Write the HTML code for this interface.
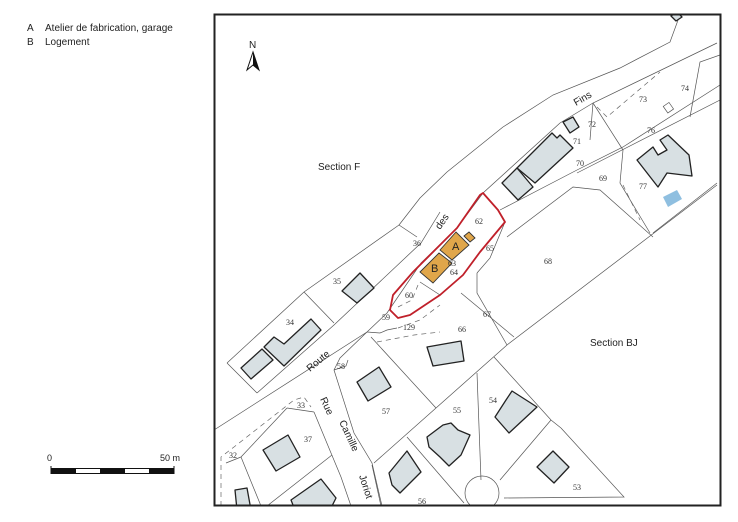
<!DOCTYPE html>
<html><head><meta charset="utf-8"><style>
html,body{margin:0;padding:0;background:#fff;}
svg{display:block;}
.s{font-family:"Liberation Sans",sans-serif;fill:#222;}
.n{font-family:"Liberation Serif",serif;font-size:8px;fill:#333;}
.l{fill:none;stroke:#555;stroke-width:0.7;}
.d{fill:none;stroke:#666;stroke-width:0.7;stroke-dasharray:5,4;}
.b{fill:#d8e0e3;stroke:#222;stroke-width:1.3;stroke-linejoin:round;}
.o{fill:#e0a64a;stroke:#333;stroke-width:0.9;}
</style></head><body>
<svg width="738" height="522" viewBox="0 0 738 522" xmlns="http://www.w3.org/2000/svg">
<rect width="738" height="522" fill="#fff"/>
<text class="s" x="27" y="31" font-size="10">A</text>
<text class="s" x="45" y="31" font-size="10">Atelier de fabrication, garage</text>
<text class="s" x="27" y="45" font-size="10">B</text>
<text class="s" x="45" y="45" font-size="10">Logement</text>
<text class="s" x="47" y="461" font-size="9">0</text>
<text class="s" x="160" y="461" font-size="9">50 m</text>
<rect x="51" y="468.5" width="123" height="5" fill="#fff" stroke="#111" stroke-width="1"/>
<rect x="51" y="468.5" width="25" height="5" fill="#111"/>
<rect x="100" y="468.5" width="25" height="5" fill="#111"/>
<rect x="149" y="468.5" width="25" height="5" fill="#111"/>
<line x1="51" y1="466" x2="51" y2="474" stroke="#111"/><line x1="174" y1="466" x2="174" y2="474" stroke="#111"/>

<clipPath id="c"><rect x="215" y="15" width="505" height="490"/></clipPath>
<g clip-path="url(#c)">
<path class="l" d="M214,430 L367,332 L387,313 L421,263 L457,228 L483,193 L560,123 L593,103 L717,43"/>
<path class="l" d="M257,393 L334,325 L421,243 L440,212"/>
<path class="l" d="M399,225 L420,198 L447,172 L503,127 L553,95 L620,68 L670,42 L681,12"/>
<path class="l" d="M227,363 L304,292 L399,225 L417,237"/>
<path class="l" d="M304,292 L334,323"/>
<path class="l" d="M227,363 L257,393"/>
<path class="l" d="M500,210 L577,170 L623,147 L720,85"/>
<path class="l" d="M507,237 L573,187 L600,190 L653,237"/>
<path class="l" d="M577,173 L720,100"/>
<path class="l" d="M593,103 L590,140"/>
<path class="l" d="M593,103 L623,150 L620,183 L650,233"/>
<path class="d" d="M597,107 L607,117 L660,72"/>
<path class="d" d="M623,185 L640,220"/>
<path class="l" d="M717,183 L653,233"/>
<path class="l" d="M720,55 L700,62 L690,117"/>
<rect x="665" y="104" width="7" height="8" class="l" transform="rotate(-35 668 108)"/>
<path class="l" d="M374,463 L507,345 L717,185"/>
<path class="l" d="M477,273 L477,293 L507,345"/>
<path class="l" d="M461,293 L514,337"/>
<path class="l" d="M505,222 L490,258 L477,273"/>
<path class="l" d="M371,337 L436,408"/>
<path class="d" d="M377,342 L414,335 L440,332"/>
<path class="d" d="M398,328 L420,320 L440,305"/>
<path class="l" d="M367,332 L380,333 L387,330 L397,328"/>
<path class="l" d="M367,332 L340,358 L334,370 L354,433 L372,463 L382,506"/>
<path class="l" d="M314,412 L331,453 L341,477 L351,506"/>
<path class="l" d="M334,370 L346,366 L348,360"/>
<path class="d" d="M221,506 L221,457 L234,447 L294,400 L304,397 L311,407"/>
<path class="l" d="M287,408 L314,412"/>
<path class="l" d="M241,457 L287,408"/>
<path class="l" d="M241,457 L261,506"/>
<path class="l" d="M267,506 L332,455"/>
<path class="l" d="M226,463 L241,457"/>
<path class="l" d="M407,437 L464,503"/>
<path class="l" d="M477,373 L481,480"/>
<path class="l" d="M494,357 L551,420 L561,428"/>
<path class="l" d="M551,420 L500,480"/>
<path class="l" d="M561,428 L624,497 L504,498"/>
<path class="l" d="M372,465 L381,506"/>
<circle cx="482" cy="493" r="17" class="l"/>
<path d="M483,193 L498,210 L505,222 L480,252 L463,275 L440,295 L410,315 L398,318 L390,310 L393,295 L413,272 L433,252 L457,228 L480,195 Z" fill="none" stroke="#c0202a" stroke-width="1.8" stroke-linejoin="round"/>
<path class="l" d="M420,282 L440,295"/>
<path class="d" d="M418,285 L412,300 L398,307"/>
<polygon class="b" points="264,347 274,337 284,344 311,319 321,330 284,366"/>
<polygon class="b" points="241,368 262,349 273,360 251,379"/>
<polygon class="b" points="342,291 360,273 374,288 357,303"/>
<polygon class="b" points="427,347 461,341 464,361 433,366"/>
<polygon class="b" points="357,382 379,367 391,387 368,401"/>
<polygon class="b" points="427,437 443,425 451,423 458,430 470,435 461,455 449,466 440,457 429,447"/>
<polygon class="b" points="495,417 506,400 512,391 537,407 509,433"/>
<polygon class="b" points="537,467 553,451 569,467 554,483"/>
<polygon class="b" points="389,473 398,462 407,451 421,472 400,493 392,485"/>
<polygon class="b" points="263,450 288,435 300,457 276,471"/>
<polygon class="b" points="291,500 321,479 336,498 330,510 295,510"/>
<polygon class="b" points="235,490 247,488 251,510 237,510"/>
<polygon class="b" points="637,160 653,147 658,155 667,150 660,140 668,135 689,155 692,176 667,173 658,187"/>
<polygon points="663,197 677,190 682,199 668,207" fill="#8fbfe0"/>
<polygon class="b" points="517,168 552,133 557,138 560,135 573,148 535,183"/>
<polygon class="b" points="502,183 517,168 533,187 518,200"/>
<polygon class="b" points="563,122 573,117 579,127 570,133"/>
<polygon class="b" points="671,16 677,12 682,17 676,21"/>
<polygon class="o" points="440,250 456,232 469,245 452,260"/>
<polygon class="o" points="464,236 469,232 475,238 470,242"/>
<polygon class="o" points="420,272 439,253 452,263 433,283"/>
<text class="s" x="452" y="250" font-size="11">A</text>
<text class="s" x="431" y="272" font-size="11">B</text>
<text class="n" x="681" y="91">74</text><text class="n" x="639" y="102">73</text>
<text class="n" x="588" y="127">72</text><text class="n" x="573" y="144">71</text>
<text class="n" x="647" y="133">76</text><text class="n" x="576" y="166">70</text>
<text class="n" x="599" y="181">69</text><text class="n" x="639" y="189">77</text>
<text class="n" x="475" y="224">62</text><text class="n" x="486" y="251">65</text>
<text class="n" x="544" y="264">68</text><text class="n" x="413" y="246">36</text>
<text class="n" x="450" y="275">64</text><text class="n" x="448" y="266" font-size="7">63</text>
<text class="n" x="405" y="298">60</text><text class="n" x="382" y="320">59</text>
<text class="n" x="403" y="330">129</text><text class="n" x="458" y="332">66</text>
<text class="n" x="483" y="317">67</text><text class="n" x="333" y="284">35</text>
<text class="n" x="286" y="325">34</text><text class="n" x="337" y="369">58</text>
<text class="n" x="382" y="414">57</text><text class="n" x="453" y="413">55</text>
<text class="n" x="489" y="403">54</text><text class="n" x="297" y="408">33</text>
<text class="n" x="304" y="442">37</text><text class="n" x="229" y="458">32</text>
<text class="n" x="418" y="504">56</text><text class="n" x="573" y="490">53</text>
<text class="s" x="318" y="170" font-size="10">Section F</text>
<text class="s" x="590" y="346" font-size="10">Section BJ</text>
<text class="s" font-size="10" transform="translate(576,106) rotate(-30)">Fins</text>
<text class="s" font-size="10" transform="translate(440,230) rotate(-55)">des</text>
<text class="s" font-size="10" transform="translate(310,372) rotate(-40)">Route</text>
<text class="s" font-size="10" transform="translate(320,399) rotate(65)">Rue</text>
<text class="s" font-size="10" transform="translate(339,422) rotate(65)">Camille</text>
<text class="s" font-size="10" transform="translate(359,476) rotate(72)">Joriot</text>
</g>
<text class="s" x="249" y="48" font-size="10">N</text>
<polygon points="253,52 247,70 253,65 259,70" fill="#fff" stroke="#111" stroke-width="1"/>
<polygon points="253,52 253,65 259,70" fill="#111"/>
<rect x="214.5" y="14.5" width="506" height="491" fill="none" stroke="#222" stroke-width="2"/>
</svg>
</body></html>
